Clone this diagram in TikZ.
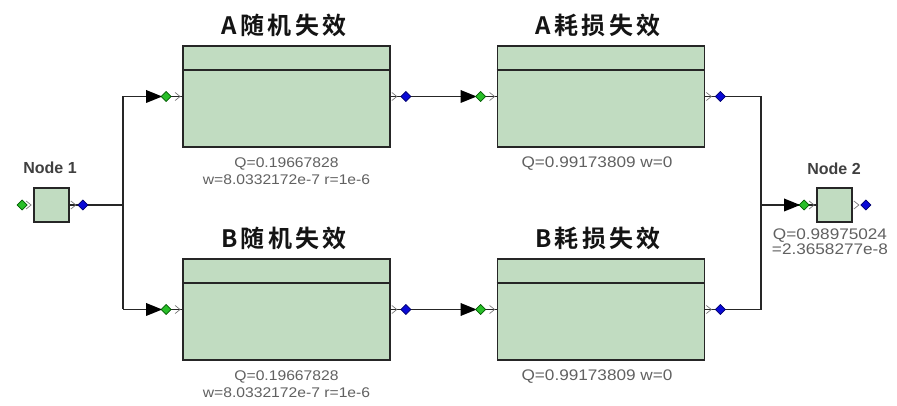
\documentclass[tikz,border=0pt]{standalone}
\usepackage{fontspec}
\setmainfont{Liberation Sans}
\newfontfamily\labfont[FakeStretch=1.12]{Liberation Sans}
\newfontfamily\cjkb[LetterSpace=14]{Noto Sans CJK SC Bold}
\definecolor{boxgreen}{RGB}{193,220,193}
\definecolor{portgreen}{RGB}{40,190,40}
\definecolor{portgreendark}{RGB}{0,90,0}
\definecolor{portblue}{RGB}{10,10,215}
\definecolor{portbluedark}{RGB}{0,0,110}
\tikzset{
  wire/.style={line width=1.1pt, draw=black!85},
  blk/.style={draw=black!85, line width=1.3pt, fill=boxgreen, minimum width=155.25pt, minimum height=75.75pt, inner sep=0pt},
  smallbox/.style={draw=black!85, line width=1.3pt, fill=boxgreen, minimum width=26.25pt, minimum height=25.5pt, inner sep=0pt},
  ttl/.style={font=\cjkb\fontsize{18}{20}\selectfont, text=black!92, inner sep=0pt},
  ntl/.style={font=\bfseries\fontsize{12}{14}\selectfont, text=black!75, inner sep=0pt},
  lab/.style={font=\labfont\fontsize{10.5}{12.75}\selectfont, text=black!62, align=center, inner sep=0pt},
  labbig/.style={lab, font=\labfont\fontsize{11.5}{11.5}\selectfont},
  chev/.style={draw=black!55, line width=0.5pt},
  gport/.style={fill=portgreen, draw=portgreendark, line width=0.5pt},
  bport/.style={fill=portblue, draw=portbluedark, line width=0.5pt},
  pics/inport/.style={code={
    \fill[black] (-#1-20,-6.5) -- (-#1-4,0) -- (-#1-20,6.5) -- cycle;
    \draw[gport] (-#1-5,0) -- (-#1,-5) -- (-#1+5,0) -- (-#1,5) -- cycle;
    \draw[chev] (-7,-4) -- (-2,0) -- (-7,4);
  }},
  pics/indot/.style={code={
    \draw[gport] (-#1-5,0) -- (-#1,-5) -- (-#1+5,0) -- (-#1,5) -- cycle;
    \draw[chev] (-7,-4) -- (-2,0) -- (-7,4);
  }},
  pics/outport/.style={code={
    \draw[chev] (1,-4) -- (6,0) -- (1,4);
    \draw[bport] (#1-5,0) -- (#1,-5) -- (#1+5,0) -- (#1,5) -- cycle;
  }}
}
\begin{document}
\begin{tikzpicture}[x=0.75pt,y=-0.75pt]
\useasboundingbox[fill=white] (0,0) rectangle (897,406);

% blocks
\node[blk] (A1) at (286.5,96.5) {};
\node[blk] (A2) at (601,96.5) {};
\node[blk] (B1) at (286.5,309.5) {};
\node[blk] (B2) at (601,309.5) {};
\foreach \b in {A1,A2,B1,B2}{
  \draw[draw=black!85, line width=1.3pt] (\b.north west) ++(0,25) -- ++(207,0);
}
\node[smallbox] (N1) at (51.5,205) {};
\node[smallbox] (N2) at (834.5,205) {};

% titles
\node[ttl] (tA1) at (284,25) {A随机失效};
\node[ttl] (tA2) at (598,25) {A耗损失效};
\node[ttl] (tB1) at (284,238) {B随机失效};
\node[ttl] (tB2) at (598,238) {B耗损失效};
\node[ntl] (tN1) at (50,168) {Node 1};
\node[ntl] (tN2) at (834,169) {Node 2};

% labels
\node[lab] (lA1) at (286.5,171.5) {Q=0.19667828\\w=8.0332172e-7 r=1e-6};
\node[labbig] (lA2) at (597,164) {Q=0.99173809 w=0};
\node[lab] (lB1) at (286.5,384.5) {Q=0.19667828\\w=8.0332172e-7 r=1e-6};
\node[labbig] (lB2) at (597,377) {Q=0.99173809 w=0};
\node[labbig, font=\labfont\fontsize{11.5}{11}\selectfont] (lN2) at (830,241.5) {Q=0.98975024\\=2.3658277e-8};

% junctions
\coordinate (j1) at (123,205);
\coordinate (j2) at (761,205);

% connectors
\draw[wire] (N1.east) -- (j1);
\draw[wire] (A1.west -| j1) -- (B1.west -| j1);
\draw[wire] (A1.west -| j1) -- (A1.west);
\draw[wire] (B1.west -| j1) -- (B1.west);
\draw[wire] (A1.east) -- (A2.west);
\draw[wire] (B1.east) -- (B2.west);
\draw[wire] (A2.east) -- (A2.east -| j2) -- (B2.east -| j2) -- (B2.east);
\draw[wire] (j2) -- (N2.west);

% ports
\pic at (A1.west) {inport=16};
\pic at (A2.west) {inport=16};
\pic at (B1.west) {inport=16};
\pic at (B2.west) {inport=16};
\pic at (A1.east) {outport=15};
\pic at (A2.east) {outport=15};
\pic at (B1.east) {outport=15};
\pic at (B2.east) {outport=15};
\pic at (N1.west) {indot=11};
\pic at (N1.east) {outport=13};
\pic at (N2.west) {inport=12};
\pic at (N2.east) {outport=13};
\end{tikzpicture}
\end{document}
